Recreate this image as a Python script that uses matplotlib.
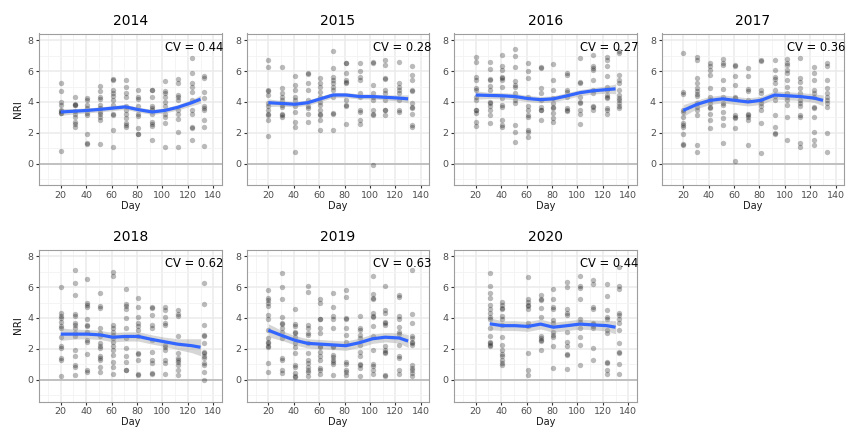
import matplotlib
matplotlib.use("Agg")
import matplotlib.pyplot as plt
import numpy as np

plt.rcParams['font.family'] = ['DejaVu Sans']

years = ["2014", "2015", "2016", "2017", "2018", "2019", "2020"]
cv_values = ["0.44", "0.28", "0.27", "0.36", "0.62", "0.63", "0.44"]

days_full = [20, 31, 41, 51, 61, 71, 81, 92, 102, 112, 123, 133]

# NRI observations per sampling day
nri_2014 = [
    [5.2, 4.7, 4.0, 3.8, 3.5, 3.4, 3.3, 3.3, 0.8],
    [4.3, 3.85, 3.8, 3.8, 3.4, 3.2, 3.0, 2.7, 2.55, 2.4],
    [4.28, 4.1, 3.8, 3.6, 3.3, 3.15, 1.9, 1.35, 1.25],
    [5.05, 4.7, 4.3, 4.2, 3.8, 3.6, 3.35, 3.2, 3.0, 2.8, 1.25],
    [5.5, 5.4, 4.8, 4.6, 4.4, 4.1, 3.8, 3.25, 3.15, 2.2, 1.1],
    [5.4, 5.0, 4.6, 4.3, 3.75, 3.45, 3.2, 2.95, 2.65, 2.5, 2.35],
    [4.8, 4.35, 4.2, 3.75, 3.25, 3.1, 2.3, 1.95, 1.9],
    [4.8, 4.75, 4.35, 3.75, 3.6, 3.45, 3.2, 2.7, 2.55, 2.45, 1.5],
    [5.35, 4.7, 4.55, 4.3, 4.0, 3.75, 3.25, 3.05, 2.65, 1.1],
    [5.5, 5.2, 4.45, 4.35, 4.15, 3.5, 3.2, 2.9, 2.05, 1.1],
    [6.85, 5.85, 5.2, 4.95, 4.65, 4.15, 3.5, 3.25, 2.4, 2.3, 1.55],
    [5.7, 5.55, 4.65, 4.25, 3.75, 3.6, 3.5, 2.85, 2.4, 1.15],
]
nri_2015 = [
    [6.7, 6.25, 4.8, 4.7, 4.45, 3.9, 3.75, 3.5, 3.25, 3.15, 2.85, 1.8],
    [6.25, 4.9, 4.55, 4.35, 4.15, 3.8, 3.7, 3.25, 3.15, 3.05],
    [5.7, 5.1, 4.75, 4.35, 4.15, 3.75, 3.35, 2.7, 2.35, 0.75],
    [5.85, 5.8, 5.25, 4.8, 4.15, 3.75, 3.6, 3.25, 2.7],
    [5.55, 5.25, 5.0, 4.65, 4.35, 4.0, 3.8, 3.5, 3.25, 3.15, 2.8, 2.15],
    [7.3, 6.2, 5.6, 5.45, 5.2, 5.0, 4.8, 4.35, 3.3, 3.25, 2.15],
    [6.55, 6.5, 5.85, 5.45, 5.3, 5.2, 4.15, 3.8, 3.75, 2.55],
    [6.5, 6.0, 5.6, 5.45, 4.55, 4.35, 3.5, 3.35, 2.85, 2.6],
    [6.6, 6.55, 5.1, 4.55, 4.35, 4.15, 3.5, 3.25, 3.15, -0.1],
    [6.75, 6.4, 5.55, 5.5, 4.8, 4.55, 4.15, 3.5, 3.45, 3.15],
    [6.6, 5.25, 4.95, 4.8, 4.55, 4.15, 3.5, 3.35],
    [6.3, 5.75, 5.45, 4.8, 4.7, 3.9, 3.7, 3.6, 3.25, 2.5, 2.35],
]
nri_2016 = [
    [6.9, 6.6, 5.65, 5.45, 4.9, 4.75, 4.35, 4.15, 3.5, 3.45, 3.3, 2.7, 2.45],
    [6.6, 6.15, 5.5, 5.4, 5.05, 4.8, 4.0, 3.9, 3.75, 3.5, 3.15, 2.65],
    [7.05, 6.3, 6.05, 5.65, 5.55, 5.45, 4.95, 4.25, 3.8, 3.7, 2.85, 2.5, 2.4],
    [7.45, 7.0, 6.25, 5.35, 5.1, 4.95, 4.55, 4.1, 3.9, 2.5, 2.05, 1.4],
    [6.55, 6.0, 5.55, 4.35, 3.75, 3.5, 3.15, 3.0, 2.15, 2.05, 1.75],
    [6.25, 6.2, 4.9, 4.6, 4.15, 3.65, 3.5, 3.45, 2.85],
    [6.45, 5.45, 4.8, 4.25, 3.9, 3.7, 3.6, 3.3, 2.95, 2.7],
    [5.9, 5.75, 4.8, 4.65, 4.3, 3.6, 3.5, 3.4],
    [6.85, 5.3, 5.2, 4.35, 4.0, 3.9, 3.5, 3.25, 2.6],
    [7.05, 6.3, 6.2, 6.1, 5.45, 4.8, 4.6, 3.75, 3.65, 3.5],
    [6.9, 6.7, 6.3, 5.7, 5.0, 4.8, 4.45, 4.35, 4.25, 3.6, 3.5, 3.25],
    [7.3, 7.15, 5.75, 5.45, 5.2, 4.8, 4.45, 4.25, 4.1, 3.95, 3.75, 3.6],
]
nri_2017 = [
    [7.2, 4.65, 4.5, 3.5, 3.35, 3.05, 2.65, 2.5, 2.4, 1.95, 1.3, 1.2],
    [6.9, 6.7, 5.55, 5.25, 4.9, 4.7, 4.5, 4.4, 3.9, 3.65, 3.5, 3.15, 1.2, 0.75],
    [6.5, 6.35, 6.05, 5.75, 4.9, 4.35, 4.15, 3.9, 3.7, 3.6, 3.25, 2.8, 2.3],
    [6.8, 6.5, 6.4, 5.45, 4.85, 4.35, 3.9, 3.8, 3.35, 2.95, 2.5, 1.35],
    [6.4, 6.3, 5.7, 5.1, 4.35, 4.25, 3.15, 3.05, 2.95, 2.3, 0.2],
    [6.2, 5.7, 4.85, 4.7, 4.15, 3.25, 3.15, 3.0, 2.85, 1.2],
    [6.75, 6.65, 4.8, 4.6, 4.15, 3.9, 3.75, 3.5, 2.65, 0.7],
    [6.75, 6.1, 5.6, 5.5, 5.2, 4.8, 4.4, 4.15, 3.15, 2.35, 2.0, 1.95],
    [6.8, 6.5, 6.4, 6.05, 5.9, 5.4, 4.95, 4.55, 4.3, 4.1, 3.8, 3.05, 1.5],
    [6.85, 5.55, 5.3, 4.9, 4.55, 4.15, 3.95, 3.75, 3.15, 3.0, 1.35, 1.1],
    [6.25, 5.9, 5.4, 4.75, 4.55, 4.35, 3.7, 3.6, 3.0, 2.05, 1.55, 1.2],
    [6.5, 6.35, 5.4, 4.9, 4.55, 4.35, 4.15, 3.9, 3.7, 2.0, 0.75],
]
days_2018 = [20, 31, 41, 51, 61, 71, 81, 92, 102, 112, 133]
nri_2018 = [
    [6.0, 4.3, 4.15, 4.0, 3.75, 3.45, 3.35, 2.75, 2.15, 2.05, 1.4, 1.3, 0.25],
    [7.1, 6.25, 5.5, 4.25, 4.15, 3.7, 3.55, 3.35, 3.05, 2.8, 1.95, 1.5, 0.95, 0.85, 0.3],
    [6.5, 5.0, 4.85, 4.7, 3.9, 3.55, 3.45, 3.1, 2.6, 2.45, 1.65, 0.65, 0.5],
    [5.6, 4.75, 4.65, 3.35, 3.0, 2.8, 2.4, 2.15, 2.05, 1.5, 1.4, 1.3, 0.85, 0.5],
    [6.95, 6.7, 3.55, 3.35, 3.1, 2.9, 2.7, 2.45, 2.15, 1.95, 1.6, 1.15, 0.85, 0.35],
    [5.9, 4.9, 4.75, 4.6, 4.0, 3.35, 2.7, 2.05, 1.5, 1.15, 0.65, 0.6],
    [5.3, 4.7, 4.05, 3.65, 3.45, 3.2, 2.85, 1.75, 1.65, 1.25, 0.35, 0.3],
    [4.7, 4.65, 4.2, 3.55, 3.35, 2.6, 1.8, 1.3, 1.05, 0.4, 0.35],
    [4.7, 4.5, 4.05, 3.65, 3.55, 2.25, 2.1, 1.95, 1.25, 1.1, 0.35],
    [4.5, 4.25, 4.15, 2.8, 1.7, 1.4, 1.3, 1.15, 0.95, 0.65, 0.3],
    [6.25, 4.9, 3.55, 2.9, 2.8, 2.4, 1.8, 1.7, 1.5, 1.4, 1.1, 0.95, 0.5, -0.05],
]
nri_2019 = [
    [5.8, 5.3, 5.15, 4.95, 4.8, 4.2, 3.9, 3.2, 2.7, 2.45, 2.35, 2.2, 2.1, 1.1, 0.5],
    [6.9, 6.0, 5.2, 4.05, 3.7, 3.6, 3.35, 3.1, 2.7, 1.4, 1.25, 0.65, 0.45],
    [4.55, 3.6, 3.45, 3.1, 3.05, 2.75, 2.4, 2.1, 1.75, 0.95, 0.85, 0.4, 0.25, 0.15],
    [6.05, 5.7, 3.55, 3.35, 3.0, 2.9, 2.35, 1.75, 1.25, 1.05, 0.8, 0.65, 0.5, 0.25],
    [5.2, 5.0, 3.95, 3.9, 3.35, 3.05, 2.2, 2.1, 1.8, 1.5, 1.3, 0.75, 0.65, 0.35],
    [5.65, 4.7, 4.15, 3.95, 3.35, 2.2, 2.1, 1.6, 1.45, 1.3, 1.15, 1.0, 0.3],
    [5.8, 5.35, 4.0, 3.9, 3.35, 2.9, 2.45, 1.15, 1.0, 0.65, 0.5, 0.3],
    [4.15, 3.35, 3.2, 2.9, 2.7, 2.25, 1.8, 1.5, 1.0, 0.95, 0.75, 0.25],
    [6.7, 5.55, 5.3, 5.2, 4.3, 4.15, 4.05, 3.45, 2.85, 1.95, 1.0, 0.9, 0.65, 0.35],
    [6.1, 4.5, 4.3, 3.75, 3.7, 3.55, 2.2, 1.95, 1.8, 1.7, 0.3, 0.25],
    [5.5, 5.35, 4.1, 3.9, 3.4, 3.1, 2.95, 2.25, 1.55, 1.4, 0.65, 0.35],
    [7.1, 4.25, 3.7, 2.85, 2.7, 2.45, 2.35, 2.25, 0.95, 0.75, 0.6, 0.4, 0.25],
]
days_2020 = [31, 41, 61, 71, 81, 92, 102, 112, 123, 133]
nri_2020 = [
    [6.9, 6.05, 5.6, 5.3, 4.85, 4.6, 4.3, 4.05, 3.95, 3.35, 2.8, 2.45, 2.35, 2.25, 2.15],
    [5.05, 4.85, 4.65, 4.55, 4.15, 3.95, 3.55, 2.75, 2.25, 1.95, 1.65, 1.5, 1.3, 1.1, 0.95],
    [6.65, 5.2, 5.05, 4.85, 4.75, 4.55, 3.65, 3.45, 1.7, 0.6, 0.3],
    [5.5, 5.2, 5.15, 4.65, 4.05, 2.85, 2.7, 2.6, 2.5, 1.95],
    [5.85, 5.2, 4.7, 4.55, 3.85, 3.65, 3.1, 2.9, 2.75, 2.15, 0.75],
    [6.3, 6.0, 4.55, 4.35, 4.2, 3.1, 2.45, 2.15, 1.65, 1.6, 0.7],
    [6.75, 6.1, 5.95, 5.2, 3.9, 3.75, 3.35, 2.75, 2.25, 0.95],
    [6.45, 6.2, 4.7, 4.55, 3.7, 3.6, 3.5, 3.35, 2.05, 1.3],
    [6.2, 5.45, 4.5, 4.05, 3.95, 3.25, 3.05, 1.15, 1.1, 0.6, 0.35],
    [7.3, 6.1, 5.85, 4.3, 4.2, 3.9, 3.65, 3.25, 2.35, 1.8, 1.7, 1.0, 0.35],
]

# Loess fit (day, fitted NRI, half width of the confidence band)
fit_day_full = [20, 31, 41, 51, 61, 71, 81, 92, 102, 112, 123, 130]
fit_2014 = [3.35, 3.4, 3.45, 3.52, 3.6, 3.68, 3.5, 3.35, 3.45, 3.65, 3.95, 4.18]
se_2014 = [0.22, 0.17, 0.16, 0.16, 0.16, 0.16, 0.16, 0.16, 0.16, 0.17, 0.2, 0.26]
fit_2015 = [3.95, 3.9, 3.85, 3.95, 4.2, 4.45, 4.45, 4.35, 4.35, 4.3, 4.25, 4.2]
se_2015 = [0.25, 0.18, 0.17, 0.17, 0.17, 0.17, 0.17, 0.16, 0.16, 0.17, 0.2, 0.26]
fit_2016 = [4.45, 4.42, 4.4, 4.35, 4.22, 4.15, 4.2, 4.4, 4.6, 4.72, 4.8, 4.85]
se_2016 = [0.27, 0.2, 0.2, 0.2, 0.2, 0.2, 0.2, 0.2, 0.2, 0.2, 0.24, 0.32]
fit_2017 = [3.45, 3.85, 4.1, 4.2, 4.1, 4.0, 4.1, 4.45, 4.4, 4.35, 4.25, 4.1]
se_2017 = [0.38, 0.28, 0.26, 0.26, 0.26, 0.26, 0.26, 0.26, 0.26, 0.26, 0.28, 0.35]
fit_2018 = [2.95, 2.95, 2.95, 2.9, 2.75, 2.8, 2.8, 2.6, 2.45, 2.3, 2.2, 2.1]
se_2018 = [0.4, 0.32, 0.3, 0.3, 0.3, 0.3, 0.3, 0.3, 0.3, 0.35, 0.45, 0.55]
fit_2019 = [3.2, 2.85, 2.55, 2.35, 2.3, 2.25, 2.2, 2.4, 2.65, 2.75, 2.7, 2.5]
se_2019 = [0.42, 0.32, 0.3, 0.3, 0.3, 0.3, 0.3, 0.3, 0.3, 0.3, 0.33, 0.42]
fit_day_2020 = [31, 41, 51, 61, 71, 76, 81, 92, 102, 112, 123, 130]
fit_2020 = [3.62, 3.5, 3.5, 3.45, 3.6, 3.5, 3.4, 3.5, 3.6, 3.55, 3.5, 3.4]
se_2020 = [0.38, 0.32, 0.32, 0.32, 0.32, 0.32, 0.32, 0.32, 0.32, 0.32, 0.34, 0.42]

panels = [
    (days_full, nri_2014, fit_day_full, fit_2014, se_2014),
    (days_full, nri_2015, fit_day_full, fit_2015, se_2015),
    (days_full, nri_2016, fit_day_full, fit_2016, se_2016),
    (days_full, nri_2017, fit_day_full, fit_2017, se_2017),
    (days_2018, nri_2018, fit_day_full, fit_2018, se_2018),
    (days_full, nri_2019, fit_day_full, fit_2019, se_2019),
    (days_2020, nri_2020, fit_day_2020, fit_2020, se_2020),
]

W, H = 846, 429
fig = plt.figure(figsize=(W / 100, H / 100), dpi=100)

col_left = [39, 246.6, 454, 661.5]
row_top = [33.5, 249.5]
pw, ph = 182.5, 152

grid_major = '#EBEBEB'
grid_minor = '#F3F3F3'

for i, (days, vals, fx, fy, fse) in enumerate(panels):
    r, c = divmod(i, 4)
    left = col_left[c] / W
    bottom = 1 - (row_top[r] + ph) / H
    ax = fig.add_axes([left, bottom, pw / W, ph / H])

    ax.set_xlim(2.9, 146.5)
    ax.set_ylim(-1.42, 8.44)
    ax.set_xticks([20, 40, 60, 80, 100, 120, 140])
    ax.set_xticks([10, 30, 50, 70, 90, 110, 130], minor=True)
    ax.set_yticks([0, 2, 4, 6, 8])
    ax.set_yticks([-1, 1, 3, 5, 7], minor=True)
    ax.grid(True, which='major', color=grid_major, linewidth=1.1, zorder=0)
    ax.grid(True, which='minor', color=grid_minor, linewidth=0.6, zorder=0)
    ax.set_axisbelow(True)

    ax.axhline(0, color='#BDBDBD', linewidth=1.3, zorder=1)

    xs = np.concatenate([[d] * len(v) for d, v in zip(days, vals)])
    ys = np.concatenate([np.asarray(v, dtype=float) for v in vals])
    ax.scatter(xs, ys, s=15, color='black', alpha=0.27, linewidths=0, zorder=2)

    fx = np.asarray(fx, dtype=float)
    fy = np.asarray(fy, dtype=float)
    fse = np.asarray(fse, dtype=float)
    ax.fill_between(fx, fy - fse, fy + fse, color='#999999', alpha=0.4,
                    linewidth=0, zorder=3)
    ax.plot(fx, fy, color='#3366FF', linewidth=2.3, zorder=4,
            solid_capstyle='butt')

    ax.text(125, 7.5, f"CV = {cv_values[i]}", ha='center', va='center',
            fontsize=8.3, color='black', clip_on=False, zorder=6)

    ax.set_title(years[i], fontsize=10, pad=6)
    ax.set_xlabel('Day', fontsize=7, color='#1a1a1a', labelpad=1)
    if c == 0:
        ax.set_ylabel('NRI', fontsize=7.5, color='#1a1a1a', labelpad=3)

    for s in ax.spines.values():
        s.set_color('#9E9E9E')
        s.set_linewidth(0.8)
    ax.tick_params(which='major', length=2.5, width=0.8, color='#333333',
                   labelsize=6.8, labelcolor='#4D4D4D', pad=1.5)
    ax.tick_params(which='minor', length=0)

fig.savefig('out.png', dpi=100, facecolor='white')
